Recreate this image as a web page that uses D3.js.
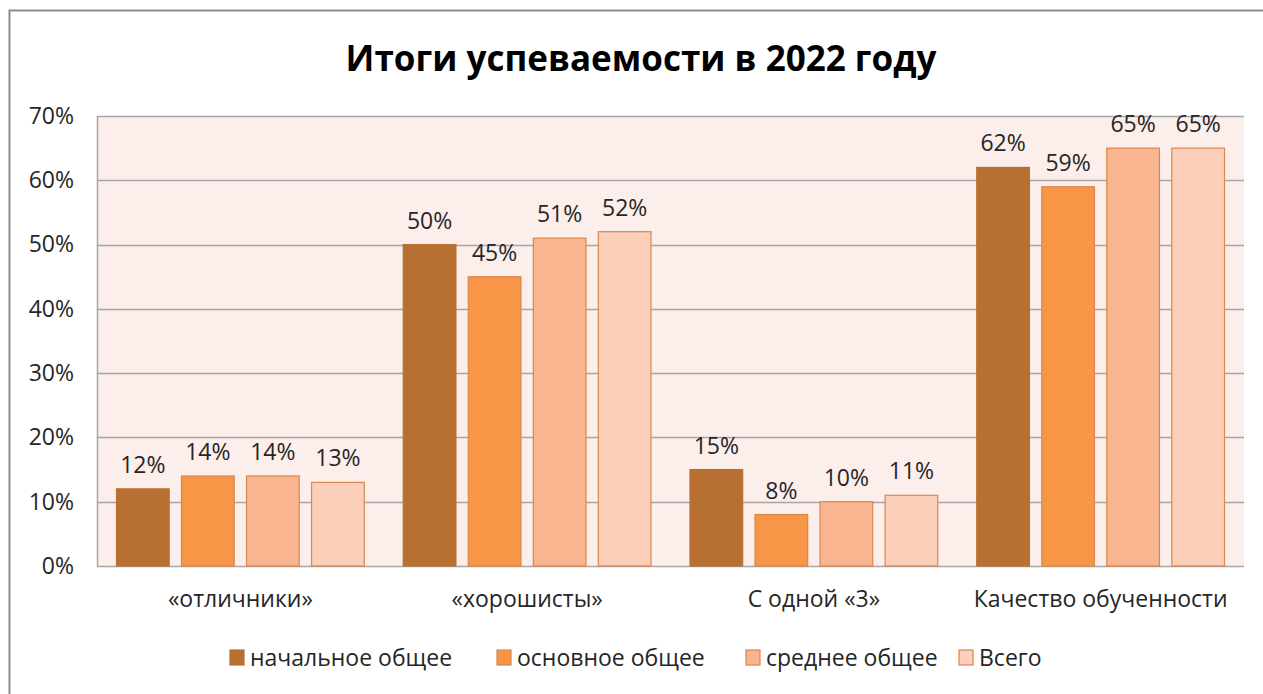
<!DOCTYPE html>
<html>
<head>
<meta charset="utf-8">
<script src="https://cdn.jsdelivr.net/npm/d3@7"></script>
<style>
body{margin:0;background:#fff;}
svg{display:block;font-family:"Open Sans",sans-serif;}
</style>
</head>
<body>
<svg id="chart" width="1263" height="694"></svg>
<script>
var categories = ["«отличники»", "«хорошисты»", "С одной «3»", "Качество обученности"];
var seriesNames = ["начальное общее", "основное общее", "среднее общее", "Всего"];
var nachalnoe = [12, 50, 15, 62];
var osnovnoe = [14, 45, 8, 59];
var srednee = [14, 51, 10, 65];
var vsego = [13, 52, 11, 65];
var yTicks = [0, 10, 20, 30, 40, 50, 60, 70];
var colors = ["#B87032", "#F79646", "#F9B590", "#FBCFBA"];
var strokes = ["#B87032", "#D9884A", "#D9884A", "#D9884A"];

var series = [nachalnoe, osnovnoe, srednee, vsego];

var svg = d3.select("#chart");

// outer frame
svg.append("rect")
	.attr("x", 9.5).attr("y", 10.5)
	.attr("width", 1270).attr("height", 700)
	.attr("fill", "#fff")
	.attr("stroke", "#8c8c8c").attr("stroke-width", 2);

var pLeft = 97, pRight = 1244, pTop = 116, pBottom = 566;

var x = d3.scaleBand().domain(categories).range([pLeft, pRight]);
var inner = d3.scaleBand().domain(d3.range(series.length)).range([0, x.bandwidth()]).paddingInner(0.19).paddingOuter(0.3);
var y = d3.scaleLinear().domain([0, 70]).range([pBottom, pTop]);

// plot background
svg.append("rect")
	.attr("x", pLeft).attr("y", pTop)
	.attr("width", pRight - pLeft).attr("height", pBottom - pTop)
	.attr("fill", "#FCEEEA");

// gridlines
svg.append("g").selectAll("line")
	.data(yTicks)
	.enter().append("line")
	.attr("x1", pLeft).attr("x2", pRight)
	.attr("y1", function(d){ return Math.round(y(d)) + 0.5; })
	.attr("y2", function(d){ return Math.round(y(d)) + 0.5; })
	.attr("stroke", "#A6A6A6").attr("stroke-width", 1.5);

// left border of plot
svg.append("line")
	.attr("x1", pLeft + 0.5).attr("x2", pLeft + 0.5)
	.attr("y1", pTop).attr("y2", pBottom)
	.attr("stroke", "#A6A6A6").attr("stroke-width", 1.5);

// y axis labels
var yAxis = d3.axisLeft(y).tickValues(yTicks).tickSize(0).tickPadding(23)
	.tickFormat(function(d){ return d + "%"; });
var yg = svg.append("g").attr("transform", "translate(" + pLeft + ",0)").call(yAxis);
yg.select(".domain").remove();
yg.selectAll("text").attr("font-size", 23).attr("fill", "#262626").attr("font-family", "Open Sans");

// x axis labels
var xAxis = d3.axisBottom(x).tickSize(0).tickPadding(25);
var xg = svg.append("g").attr("transform", "translate(0," + pBottom + ")").call(xAxis);
xg.select(".domain").remove();
xg.selectAll("text").attr("font-size", 23).attr("fill", "#262626").attr("font-family", "Open Sans");

// bars
series.forEach(function(vals, si){
	var g = svg.append("g");
	g.selectAll("rect")
		.data(vals)
		.enter().append("rect")
		.attr("x", function(d, i){ return x(categories[i]) + inner(si); })
		.attr("y", function(d){ return y(d); })
		.attr("width", inner.bandwidth())
		.attr("height", function(d){ return pBottom - y(d); })
		.attr("fill", colors[si])
		.attr("stroke", strokes[si]).attr("stroke-width", 1.2);
	g.selectAll("text")
		.data(vals)
		.enter().append("text")
		.attr("x", function(d, i){ return x(categories[i]) + inner(si) + inner.bandwidth() / 2; })
		.attr("y", function(d){ return y(d) - 16; })
		.attr("text-anchor", "middle")
		.attr("font-size", 23).attr("fill", "#262626")
		.text(function(d){ return d + "%"; });
});

// title
svg.append("text")
	.attr("x", 641).attr("y", 71)
	.attr("text-anchor", "middle")
	.attr("font-size", 35).attr("font-weight", "bold").attr("fill", "#000")
	.text("Итоги успеваемости в 2022 году");

// legend
var legendX = [230, 497, 746, 959];
var lg = svg.append("g").selectAll("g")
	.data(seriesNames)
	.enter().append("g")
	.attr("transform", function(d, i){ return "translate(" + legendX[i] + ",650)"; });
lg.append("rect")
	.attr("width", 14).attr("height", 15)
	.attr("fill", function(d, i){ return colors[i]; })
	.attr("stroke", function(d, i){ return strokes[i]; }).attr("stroke-width", 1.2);
lg.append("text")
	.attr("x", 20).attr("y", 16)
	.attr("font-size", 23).attr("fill", "#262626")
	.text(function(d){ return d; });
</script>
</body>
</html>
